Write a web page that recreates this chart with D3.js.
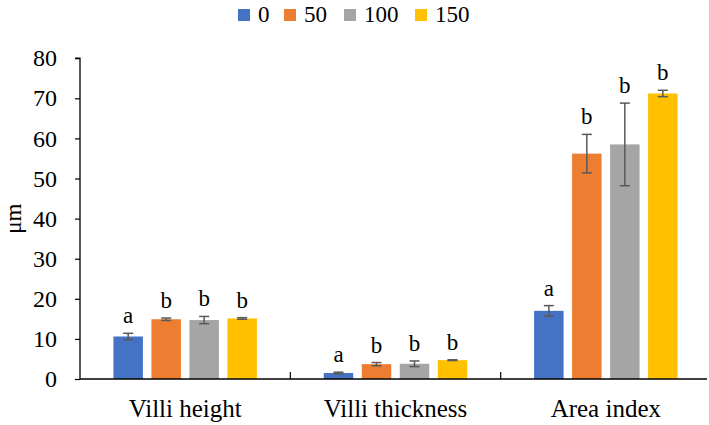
<!DOCTYPE html>
<html><head><meta charset="utf-8">
<script src="https://cdn.jsdelivr.net/npm/d3@7"></script>
<style>body{margin:0;background:#fff}svg{display:block}text{font-family:"Liberation Serif","Times New Roman",serif}</style>
</head><body><svg id="c" width="709" height="425"></svg>
<script>
const categories = ["Villi height", "Villi thickness", "Area index"];
const seriesNames = ["0", "50", "100", "150"];
const colors = ["#4472C4", "#ED7D31", "#A5A5A5", "#FFC000"];
const values0   = [10.6, 1.5, 17.0];
const values50  = [14.9, 3.7, 56.2];
const values100 = [14.7, 3.8, 58.5];
const values150 = [15.1, 4.7, 71.2];
const err0   = [0.8, 0.2, 1.3];
const err50  = [0.3, 0.4, 4.8];
const err100 = [0.9, 0.7, 10.3];
const err150 = [0.2, 0.1, 0.8];
const letters0 = ["a", "a", "a"];
const letters50 = ["b", "b", "b"];
const letters100 = ["b", "b", "b"];
const letters150 = ["b", "b", "b"];
const yTicks = [0, 10, 20, 30, 40, 50, 60, 70, 80];

(function () {
const series = [values0, values50, values100, values150];
const errs = [err0, err50, err100, err150];
const letters = [letters0, letters50, letters100, letters150];

const svg = d3.select("#c");
const mLeft = 80, mRight = 711, mTop = 58.2, mBottom = 379;
const x = d3.scaleBand().domain(categories).range([mLeft, mRight]).paddingInner(0).paddingOuter(0);
const xs = d3.scaleBand().domain(seriesNames).range([0, x.bandwidth()]).paddingInner(0.224).paddingOuter(0.88);
const y = d3.scaleLinear().domain([0, 80]).range([mBottom, mTop]);

// y axis
const yAxis = svg.append("g").attr("transform", `translate(${mLeft},0)`)
  .call(d3.axisLeft(y).tickValues(yTicks).tickSize(5).tickPadding(18));
yAxis.select(".domain").attr("stroke", "#000").attr("stroke-width", 1.3).attr("d", `M-5,${mTop}H0V${mBottom}`);
yAxis.selectAll(".tick line").attr("stroke", "#000").attr("stroke-width", 1.2);
yAxis.selectAll(".tick text").attr("font-size", 24).attr("fill", "#000").attr("font-family", "Liberation Serif");

// bars
categories.forEach((c, ci) => {
  series.forEach((s, si) => {
    const bx = x(c) + xs(seriesNames[si]);
    const bw = xs.bandwidth();
    svg.append("rect").attr("x", bx).attr("y", y(s[ci])).attr("width", bw).attr("height", y(0) - y(s[ci])).attr("fill", colors[si]);
    const cx = bx + bw / 2;
    const hi = y(s[ci] + errs[si][ci]), lo = y(s[ci] - errs[si][ci]);
    const g = svg.append("g").attr("stroke", "#595959").attr("stroke-width", 1.5);
    g.append("line").attr("x1", cx).attr("x2", cx).attr("y1", hi).attr("y2", lo);
    g.append("line").attr("x1", cx - 5).attr("x2", cx + 5).attr("y1", hi).attr("y2", hi);
    g.append("line").attr("x1", cx - 5).attr("x2", cx + 5).attr("y1", lo).attr("y2", lo);
    svg.append("text").attr("x", cx).attr("y", hi - 10).attr("text-anchor", "middle").attr("font-size", 23).attr("fill", "#000").text(letters[si][ci]);
  });
});

// x axis
const xAxis = svg.append("g").attr("transform", `translate(0,${mBottom})`)
  .call(d3.axisBottom(x).tickSize(0).tickPadding(20));
xAxis.select(".domain").attr("stroke", "#000").attr("stroke-width", 1.3).attr("d", `M${mLeft},0H707`);
xAxis.selectAll(".tick text").attr("font-size", 25).attr("fill", "#000").attr("font-family", "Liberation Serif");
svg.append("g").selectAll("line").data(categories.slice(1)).join("line")
  .attr("x1", d => x(d)).attr("x2", d => x(d)).attr("y1", mBottom - 7).attr("y2", mBottom).attr("stroke", "#000").attr("stroke-width", 1.2);

// y label
svg.append("text").attr("transform", `translate(21,${(mTop + mBottom) / 2}) rotate(-90)`).attr("text-anchor", "middle")
  .attr("font-size", 23).attr("fill", "#000").text("μm");

// legend
const legendX = [238, 284, 344, 415];
seriesNames.forEach((n, i) => {
  svg.append("rect").attr("x", legendX[i]).attr("y", 9).attr("width", 12).attr("height", 12).attr("fill", colors[i]);
  svg.append("text").attr("x", legendX[i] + 20).attr("y", 22).attr("font-size", 23).attr("fill", "#000").text(n);
});
})();
</script></body></html>
